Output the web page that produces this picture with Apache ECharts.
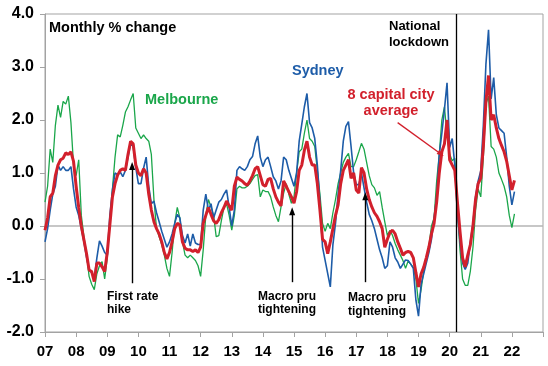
<!DOCTYPE html>
<html>
<head>
<meta charset="utf-8">
<script src="https://cdn.jsdelivr.net/npm/echarts@6/dist/echarts.min.js"></script>
<style>
html,body{margin:0;padding:0;background:#fff;}
#chart{width:548px;height:366px;}
</style>
</head>
<body>
<div id="chart"></div>
<script>
// ---- data (monthly % change, Jan 2007 .. Feb 2022) ----
const startYear = 2007;
const xTickYears = [2007,2008,2009,2010,2011,2012,2013,2014,2015,2016,2017,2018,2019,2020,2021,2022,2023];
const yTicks = [-2, -1, 0, 1, 2, 3, 4];

const sydney = [
-0.3,-0.05,0.3,0.6,0.75,1.15,1.05,1.12,1.05,1.05,1.12,0.7,
0.36,0.2,-0.05,-0.3,-0.58,-0.83,-0.88,-0.98,-0.6,-0.28,-0.38,-0.5,
-0.55,0.2,0.68,1.0,0.97,1.02,0.93,1.05,1.3,1.55,1.5,1.1,
0.8,0.8,1.09,1.3,0.75,0.42,0.47,0.25,0.08,-0.1,-0.25,-0.4,
-0.3,-0.15,0.05,0.22,0.15,-0.18,-0.32,-0.15,-0.38,-0.15,-0.32,-0.35,
-0.35,0.3,0.6,0.3,0.42,0.15,0.3,0.45,0.5,0.6,0.68,0.35,
0.0,0.3,1.05,1.12,1.08,1.05,1.12,1.25,1.31,1.55,1.7,1.3,
1.12,1.25,1.3,1.12,0.93,0.85,0.7,0.85,1.3,1.25,1.05,0.9,
0.75,1.0,1.6,1.92,2.25,2.5,1.95,1.85,1.65,1.15,0.45,-0.4,
-0.65,-0.9,-1.15,-0.35,0.05,0.6,1.05,1.6,1.88,1.97,1.5,1.0,
0.78,0.78,1.0,0.72,0.45,0.22,0.1,-0.05,-0.25,-0.45,-0.6,-0.8,
-0.75,-0.3,-0.4,-0.6,-0.68,-0.8,-0.72,-0.64,-0.65,-0.72,-0.8,-1.4,
-1.7,-1.1,-0.9,-0.7,-0.5,-0.25,0.15,0.55,1.35,1.75,2.2,2.7,
1.48,1.65,1.15,0.25,-0.3,-0.7,-0.82,-0.7,-0.3,0.05,0.55,0.85,
1.04,1.9,3.06,3.7,2.4,2.8,2.1,1.85,1.8,1.75,1.3,0.75,
0.4,0.65
];

const melbourne = [
0.45,0.75,1.45,1.2,1.9,2.28,2.05,2.35,2.3,2.45,1.95,1.15,
0.95,1.25,0.2,-0.2,-0.52,-0.95,-1.1,-1.2,-0.9,-0.75,-0.67,-1.0,
-0.6,0.05,0.7,1.3,1.72,1.68,1.9,2.15,2.25,2.38,2.5,1.85,
1.75,1.65,1.72,1.65,1.6,1.35,0.5,-0.05,-0.2,-0.35,-0.55,-0.8,
-0.95,-0.5,0.05,0.35,0.15,-0.3,-0.55,-0.6,-0.55,-0.6,-0.65,-0.75,
-0.95,-0.45,0.2,0.5,0.36,0.2,-0.2,-0.18,0.1,0.35,0.42,0.2,
-0.08,0.2,0.7,0.75,0.72,0.72,0.75,0.8,0.88,0.95,0.97,0.55,
0.68,0.65,0.65,0.55,0.36,0.2,0.08,0.36,0.62,0.8,0.6,0.43,
0.55,1.0,1.4,1.45,1.75,2.0,1.65,1.6,1.5,1.05,0.6,0.05,
-0.1,0.05,-0.05,0.25,0.5,0.8,1.0,1.2,1.3,1.37,1.12,1.12,
1.25,1.4,1.56,1.45,1.2,0.95,0.78,0.72,0.58,0.65,0.35,0.08,
-0.18,-0.08,-0.18,-0.33,-0.45,-0.55,-0.65,-0.8,-0.66,-0.72,-0.78,-1.0,
-1.46,-1.2,-0.85,-0.64,-0.38,0.0,0.15,0.85,1.35,2.0,2.25,1.7,
1.36,1.23,1.28,0.3,-0.45,-1.0,-1.12,-1.12,-0.85,-0.4,0.3,0.7,
0.55,1.3,2.3,2.45,1.5,1.45,1.3,1.0,0.88,0.75,0.55,0.2,
-0.03,0.23
];

const capital8 = [
-0.08,0.15,0.55,0.62,0.95,1.15,1.25,1.28,1.38,1.35,1.4,1.22,
0.75,0.35,0.0,-0.26,-0.52,-0.83,-0.86,-1.05,-0.7,-0.7,-0.77,-0.86,
-0.5,0.02,0.55,0.8,0.96,1.05,1.08,1.05,1.35,1.6,1.55,1.15,
1.0,0.95,1.08,1.0,0.6,0.3,0.08,-0.05,-0.15,-0.3,-0.5,-0.62,
-0.5,-0.3,-0.05,0.05,0.02,-0.3,-0.42,-0.45,-0.45,-0.48,-0.45,-0.5,
-0.4,0.05,0.2,0.35,0.22,0.1,0.05,0.12,0.25,0.35,0.47,0.38,
0.3,0.75,0.92,0.88,0.85,0.8,0.77,0.85,0.95,1.08,1.12,0.95,
0.78,0.75,0.88,0.9,0.7,0.55,0.45,0.38,0.85,0.75,0.65,0.55,
0.43,0.65,1.05,1.15,1.43,1.6,1.3,1.15,1.15,0.8,0.3,-0.25,
-0.3,-0.52,-0.3,-0.05,0.2,0.4,0.8,1.05,1.15,1.25,0.9,1.0,
0.68,0.62,1.1,1.0,0.7,0.5,0.36,0.25,0.18,0.08,-0.05,-0.4,
-0.25,-0.12,-0.08,-0.15,-0.3,-0.42,-0.55,-0.5,-0.48,-0.5,-0.6,-0.88,
-1.15,-0.9,-0.78,-0.6,-0.4,-0.15,0.05,0.45,1.0,1.4,1.55,2.0,
1.25,1.15,1.05,0.45,-0.1,-0.6,-0.77,-0.55,-0.35,0.0,0.5,0.8,
0.9,1.5,2.35,2.84,2.0,2.1,1.85,1.65,1.52,1.4,1.22,0.95,
0.68,0.86
];

// annotation anchors in data space (year, % change)
const lockdownDate = 2020.2;
const rateHikeArrow = [[2009.8, -1.08], [2009.8, 1.13]];
const pruArrow1 = [[2014.94, -1.06], [2014.94, 0.28]];
const pruArrow2 = [[2017.29, -1.06], [2017.29, 0.56]];
const avgArrow = [[2018.33, 1.95], [2019.72, 1.36]];

// ---- chart ----
const FONT = '"Liberation Sans", Arial, sans-serif';
const BLUE = '#1d5ca8', GREEN = '#1aa64a', RED = '#d2202c', AXIS = '#a3a3a3';

const toPairs = arr => arr.map((v, i) => [startYear + i / 12, v]);

function arrowItem(seg, color) {
  return [
    { coord: seg[0], symbol: 'none', lineStyle: { color: color, width: 1.4, type: 'solid' } },
    { coord: seg[1], symbol: 'triangle', symbolSize: [6, 8], symbolRotate: 0 }
  ];
}

const chart = echarts.init(document.getElementById('chart'), null, { renderer: 'canvas' });

function txt(text, x, y, color, size, align) {
  return {
    type: 'text', z: 100,
    style: { text: text, x: x, y: y, fill: color, font: 'bold ' + size + 'px ' + FONT,
             textAlign: align || 'left', textVerticalAlign: 'middle' }
  };
}

const option = {
  animation: false,
  backgroundColor: '#fff',
  grid: { left: 45, right: 5, top: 14, bottom: 34, show: true, borderColor: AXIS, borderWidth: 1 },
  xAxis: {
    type: 'value', min: xTickYears[0], max: xTickYears[xTickYears.length - 1], interval: 1,
    axisLine: { show: true, onZero: false, lineStyle: { color: AXIS, width: 1 } },
    axisTick: { show: true, inside: false, length: 5, lineStyle: { color: AXIS } },
    axisLabel: {
      margin: 12, color: '#000', fontSize: 15, fontWeight: 'bold', fontFamily: FONT,
      formatter: v => (v < xTickYears[xTickYears.length - 1] ? String(Math.round(v)).slice(2) : '')
    },
    splitLine: { show: false }
  },
  yAxis: {
    type: 'value', min: yTicks[0], max: yTicks[yTicks.length - 1], interval: 1,
    axisLine: { show: true, lineStyle: { color: AXIS, width: 1 } },
    axisTick: { show: true, inside: false, length: 5, lineStyle: { color: AXIS } },
    axisLabel: { margin: 11, color: '#000', fontSize: 16, fontWeight: 'bold', fontFamily: FONT,
                 formatter: v => v.toFixed(1) },
    splitLine: { show: true, lineStyle: { width: 1.5,
      color: yTicks.map(t => (t === 0 ? '#b5b5b5' : 'rgba(0,0,0,0)')) } }
  },
  series: [
    { name: 'Melbourne', type: 'line', data: toPairs(melbourne), showSymbol: false, symbol: 'none',
      lineStyle: { color: GREEN, width: 1.3 }, z: 2 },
    { name: 'Sydney', type: 'line', data: toPairs(sydney), showSymbol: false, symbol: 'none',
      lineStyle: { color: BLUE, width: 1.6 }, z: 3 },
    { name: '8 capital city average', type: 'line', data: toPairs(capital8), showSymbol: false, symbol: 'none',
      lineStyle: { color: RED, width: 3 }, z: 4,
      markLine: {
        silent: true, animation: false, label: { show: false }, symbol: ['none', 'none'],
        data: [
          { xAxis: lockdownDate, lineStyle: { color: '#000', width: 1.3, type: 'solid' } },
          arrowItem(rateHikeArrow, '#000'),
          arrowItem(pruArrow1, '#000'),
          arrowItem(pruArrow2, '#000'),
          [
            { coord: avgArrow[0], symbol: 'none', lineStyle: { color: RED, width: 1.3, type: 'solid' } },
            { coord: avgArrow[1], symbol: 'triangle', symbolSize: [5, 7] }
          ]
        ]
      }
    }
  ],
  graphic: [
    txt('Monthly % change', 49, 28, '#000', 14.5),
    txt('Melbourne', 145, 100, GREEN, 14.5),
    txt('Sydney', 292, 71, BLUE, 14.5),
    txt('8 capital city', 391, 95, RED, 14.5, 'center'),
    txt('average', 391, 111, RED, 14.5, 'center'),
    txt('National', 389, 26.5, '#000', 13),
    txt('lockdown', 389, 42, '#000', 13),
    txt('First rate', 107, 296.5, '#000', 12),
    txt('hike', 107, 310, '#000', 12),
    txt('Macro pru', 258, 296.5, '#000', 12),
    txt('tightening', 258, 310, '#000', 12),
    txt('Macro pru', 348, 298, '#000', 12),
    txt('tightening', 348, 311.5, '#000', 12)
  ]
};
chart.setOption(option);
</script>
</body>
</html>
